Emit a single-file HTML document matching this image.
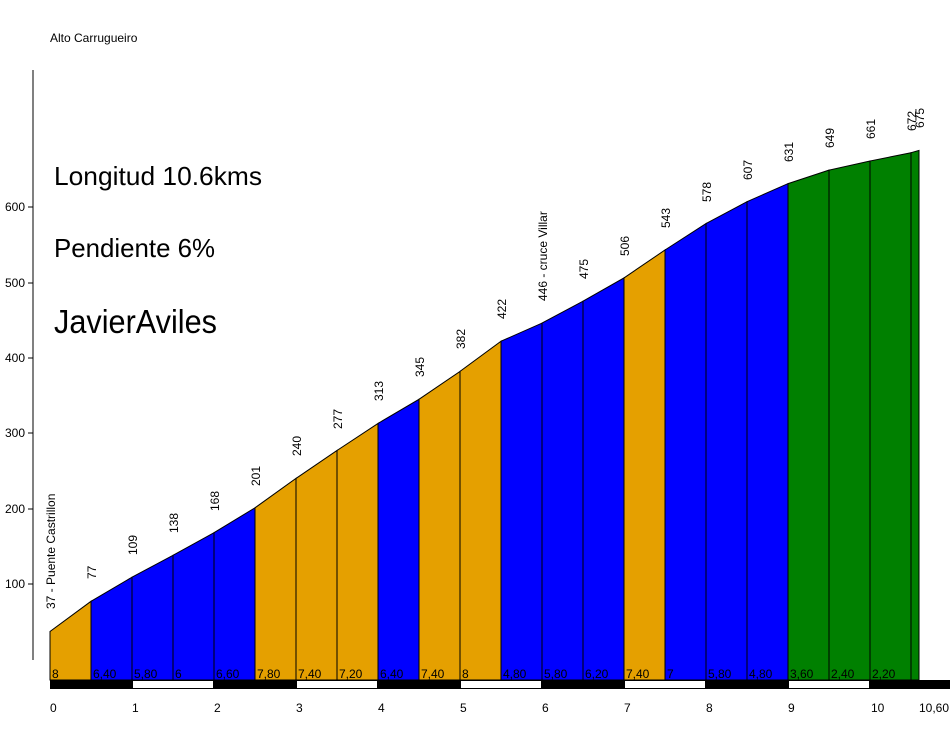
<!DOCTYPE html>
<html><head><meta charset="utf-8"><style>
html,body{margin:0;padding:0;background:#fff;}
svg{display:block;font-family:"Liberation Sans",Arial,sans-serif;}
</style></head><body>
<svg width="950" height="730" viewBox="0 0 950 730" xmlns="http://www.w3.org/2000/svg">
<rect width="950" height="730" fill="#fff"/>
<text x="50" y="42" font-size="12">Alto Carrugueiro</text>
<text x="54" y="185" font-size="26" textLength="208" lengthAdjust="spacingAndGlyphs">Longitud 10.6kms</text>
<text x="54" y="257" font-size="26" textLength="161" lengthAdjust="spacingAndGlyphs">Pendiente 6%</text>
<text x="54" y="333" font-size="33" textLength="163" lengthAdjust="spacingAndGlyphs">JavierAviles</text>
<line x1="33" y1="70" x2="33" y2="660" stroke="#000"/>
<g font-size="12" text-anchor="end">
<line x1="28" y1="584" x2="33" y2="584" stroke="#000"/><text x="25" y="588">100</text>
<line x1="28" y1="509" x2="33" y2="509" stroke="#000"/><text x="25" y="513">200</text>
<line x1="28" y1="433" x2="33" y2="433" stroke="#000"/><text x="25" y="437">300</text>
<line x1="28" y1="358" x2="33" y2="358" stroke="#000"/><text x="25" y="362">400</text>
<line x1="28" y1="283" x2="33" y2="283" stroke="#000"/><text x="25" y="287">500</text>
<line x1="28" y1="207" x2="33" y2="207" stroke="#000"/><text x="25" y="211">600</text>
</g>
<g stroke="#000" stroke-width="1">
<polygon fill="#e5a000" points="50,680 50,631.5 91,601.3 91,680"/>
<polygon fill="#0000ff" points="91,680 91,601.3 132,577.2 132,680"/>
<polygon fill="#0000ff" points="132,680 132,577.2 173,555.3 173,680"/>
<polygon fill="#0000ff" points="173,680 173,555.3 214,532.7 214,680"/>
<polygon fill="#0000ff" points="214,680 214,532.7 255,507.8 255,680"/>
<polygon fill="#e5a000" points="255,680 255,507.8 296,478.4 296,680"/>
<polygon fill="#e5a000" points="296,680 296,478.4 337,450.5 337,680"/>
<polygon fill="#e5a000" points="337,680 337,450.5 378,423.4 378,680"/>
<polygon fill="#0000ff" points="378,680 378,423.4 419,399.3 419,680"/>
<polygon fill="#e5a000" points="419,680 419,399.3 460,371.4 460,680"/>
<polygon fill="#e5a000" points="460,680 460,371.4 501,341.2 501,680"/>
<polygon fill="#0000ff" points="501,680 501,341.2 542,323.1 542,680"/>
<polygon fill="#0000ff" points="542,680 542,323.1 583,301.2 583,680"/>
<polygon fill="#0000ff" points="583,680 583,301.2 624,277.9 624,680"/>
<polygon fill="#e5a000" points="624,680 624,277.9 665,250 665,680"/>
<polygon fill="#0000ff" points="665,680 665,250 706,223.6 706,680"/>
<polygon fill="#0000ff" points="706,680 706,223.6 747,201.7 747,680"/>
<polygon fill="#0000ff" points="747,680 747,201.7 788,183.6 788,680"/>
<polygon fill="#008000" points="788,680 788,183.6 829,170.1 829,680"/>
<polygon fill="#008000" points="829,680 829,170.1 870,161 870,680"/>
<polygon fill="#008000" points="870,680 870,161 911,152.7 911,680"/>
<polygon fill="#008000" points="911,680 911,152.7 919,150.4 919,680"/>
</g>
<g font-size="12">
<text transform="translate(55,609) rotate(-90)">37 - Puente Castrillon</text>
<text transform="translate(96,579) rotate(-90)">77</text>
<text transform="translate(137,555) rotate(-90)">109</text>
<text transform="translate(178,533) rotate(-90)">138</text>
<text transform="translate(219,511) rotate(-90)">168</text>
<text transform="translate(260,486) rotate(-90)">201</text>
<text transform="translate(301,456) rotate(-90)">240</text>
<text transform="translate(342,429) rotate(-90)">277</text>
<text transform="translate(383,401) rotate(-90)">313</text>
<text transform="translate(424,377) rotate(-90)">345</text>
<text transform="translate(465,349) rotate(-90)">382</text>
<text transform="translate(506,319) rotate(-90)">422</text>
<text transform="translate(547,301) rotate(-90)">446 - cruce Villar</text>
<text transform="translate(588,279) rotate(-90)">475</text>
<text transform="translate(629,256) rotate(-90)">506</text>
<text transform="translate(670,228) rotate(-90)">543</text>
<text transform="translate(711,202) rotate(-90)">578</text>
<text transform="translate(752,180) rotate(-90)">607</text>
<text transform="translate(793,162) rotate(-90)">631</text>
<text transform="translate(834,148) rotate(-90)">649</text>
<text transform="translate(875,139) rotate(-90)">661</text>
<text transform="translate(916,131) rotate(-90)">672</text>
<text transform="translate(924,128) rotate(-90)">675</text>
</g>
<g font-size="12">
<text x="52" y="678">8</text>
<text x="93" y="678">6,40</text>
<text x="134" y="678">5,80</text>
<text x="175" y="678">6</text>
<text x="216" y="678">6,60</text>
<text x="257" y="678">7,80</text>
<text x="298" y="678">7,40</text>
<text x="339" y="678">7,20</text>
<text x="380" y="678">6,40</text>
<text x="421" y="678">7,40</text>
<text x="462" y="678">8</text>
<text x="503" y="678">4,80</text>
<text x="544" y="678">5,80</text>
<text x="585" y="678">6,20</text>
<text x="626" y="678">7,40</text>
<text x="667" y="678">7</text>
<text x="708" y="678">5,80</text>
<text x="749" y="678">4,80</text>
<text x="790" y="678">3,60</text>
<text x="831" y="678">2,40</text>
<text x="872" y="678">2,20</text>
</g>
<rect x="50" y="680" width="900" height="9" fill="#000"/>
<rect x="133" y="681" width="80" height="7" fill="#fff"/>
<rect x="297" y="681" width="80" height="7" fill="#fff"/>
<rect x="461" y="681" width="80" height="7" fill="#fff"/>
<rect x="625" y="681" width="80" height="7" fill="#fff"/>
<rect x="789" y="681" width="80" height="7" fill="#fff"/>
<g font-size="12">
<text x="50" y="712">0</text>
<text x="132" y="712">1</text>
<text x="214" y="712">2</text>
<text x="296" y="712">3</text>
<text x="378" y="712">4</text>
<text x="460" y="712">5</text>
<text x="542" y="712">6</text>
<text x="624" y="712">7</text>
<text x="706" y="712">8</text>
<text x="788" y="712">9</text>
<text x="871" y="712">10</text>
<text x="919" y="712">10,60</text>
</g>
</svg>
</body></html>
